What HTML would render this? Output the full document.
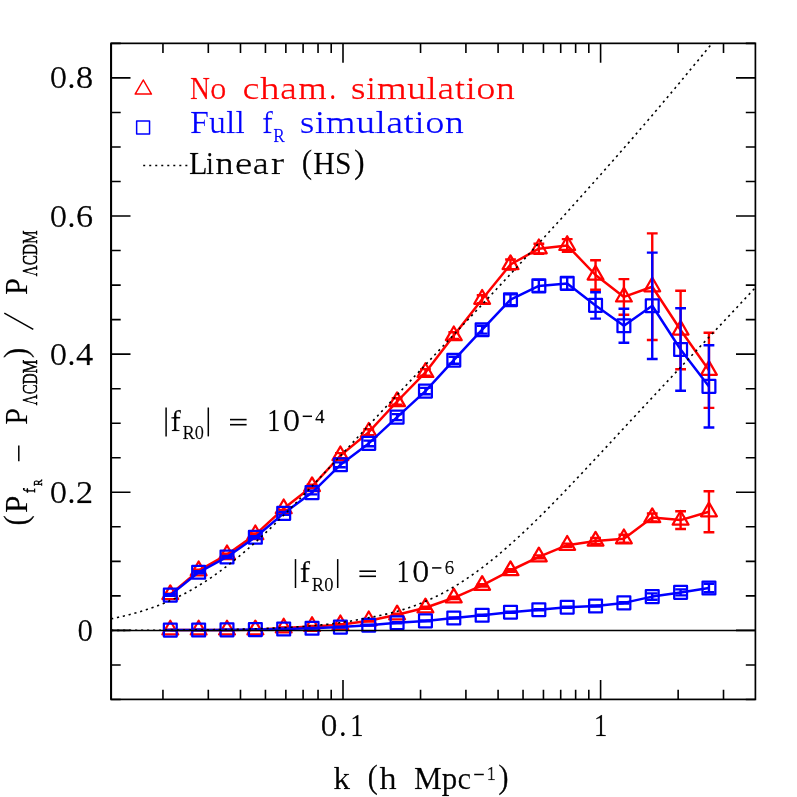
<!DOCTYPE html>
<html><head><meta charset="utf-8"><title>chart</title>
<style>html,body{margin:0;padding:0;background:#fff;}svg{display:block;}text{font-family:"Liberation Serif",serif;}</style></head>
<body>
<svg width="797" height="797" viewBox="0 0 797 797">
<rect x="0" y="0" width="797" height="797" fill="#ffffff"/>
<defs><clipPath id="cp"><rect x="111.1" y="43.35" width="644.3" height="656.05"/></clipPath></defs>
<g clip-path="url(#cp)">
<path d="M170.30,594.50 L198.65,570.70 L227.00,554.60 L255.35,534.60 L283.70,508.60 L312.05,486.50 L340.40,455.60 L368.75,432.20 L397.10,401.50 L425.45,372.40 L453.80,335.60 L482.15,299.20 L510.50,264.50 L538.85,248.70 L567.20,245.40 L595.55,275.00 L623.90,296.90 L652.25,286.70 L680.60,330.00 L708.95,370.30" fill="none" stroke="#ff0000" stroke-width="2.5" stroke-linejoin="round"/>
<path d="M170.30,593.70V595.30M164.90,593.70H175.70M164.90,595.30H175.70M198.65,569.70V571.70M193.25,569.70H204.05M193.25,571.70H204.05M227.00,553.60V555.60M221.60,553.60H232.40M221.60,555.60H232.40M255.35,533.40V535.80M249.95,533.40H260.75M249.95,535.80H260.75M283.70,507.10V510.10M278.30,507.10H289.10M278.30,510.10H289.10M312.05,484.70V488.30M306.65,484.70H317.45M306.65,488.30H317.45M340.40,453.10V458.10M335.00,453.10H345.80M335.00,458.10H345.80M368.75,429.20V435.20M363.35,429.20H374.15M363.35,435.20H374.15M397.10,398.20V404.80M391.70,398.20H402.50M391.70,404.80H402.50M425.45,369.10V375.70M420.05,369.10H430.85M420.05,375.70H430.85M453.80,332.30V338.90M448.40,332.30H459.20M448.40,338.90H459.20M482.15,295.20V303.20M476.75,295.20H487.55M476.75,303.20H487.55M510.50,259.50V269.50M505.10,259.50H515.90M505.10,269.50H515.90M538.85,243.70V253.70M533.45,243.70H544.25M533.45,253.70H544.25M567.20,239.10V251.70M561.80,239.10H572.60M561.80,251.70H572.60M595.55,260.30V289.70M590.15,260.30H600.95M590.15,289.70H600.95M623.90,279.10V314.70M618.50,279.10H629.30M618.50,314.70H629.30M652.25,233.40V340.00M646.85,233.40H657.65M646.85,340.00H657.65M680.60,290.80V369.20M675.20,290.80H686.00M675.20,369.20H686.00M708.95,332.70V407.90M703.55,332.70H714.35M703.55,407.90H714.35" fill="none" stroke="#ff0000" stroke-width="2.4"/>
<polygon points="170.30,585.35 178.22,599.08 162.38,599.08" fill="none" stroke="#ff0000" stroke-width="2.25" stroke-linejoin="round"/>
<polygon points="198.65,561.55 206.57,575.28 190.73,575.28" fill="none" stroke="#ff0000" stroke-width="2.25" stroke-linejoin="round"/>
<polygon points="227.00,545.45 234.92,559.18 219.08,559.18" fill="none" stroke="#ff0000" stroke-width="2.25" stroke-linejoin="round"/>
<polygon points="255.35,525.45 263.27,539.18 247.43,539.18" fill="none" stroke="#ff0000" stroke-width="2.25" stroke-linejoin="round"/>
<polygon points="283.70,499.45 291.62,513.18 275.78,513.18" fill="none" stroke="#ff0000" stroke-width="2.25" stroke-linejoin="round"/>
<polygon points="312.05,477.35 319.97,491.07 304.13,491.07" fill="none" stroke="#ff0000" stroke-width="2.25" stroke-linejoin="round"/>
<polygon points="340.40,446.45 348.32,460.18 332.48,460.18" fill="none" stroke="#ff0000" stroke-width="2.25" stroke-linejoin="round"/>
<polygon points="368.75,423.05 376.67,436.77 360.83,436.77" fill="none" stroke="#ff0000" stroke-width="2.25" stroke-linejoin="round"/>
<polygon points="397.10,392.35 405.02,406.07 389.18,406.07" fill="none" stroke="#ff0000" stroke-width="2.25" stroke-linejoin="round"/>
<polygon points="425.45,363.25 433.37,376.97 417.53,376.97" fill="none" stroke="#ff0000" stroke-width="2.25" stroke-linejoin="round"/>
<polygon points="453.80,326.45 461.72,340.18 445.88,340.18" fill="none" stroke="#ff0000" stroke-width="2.25" stroke-linejoin="round"/>
<polygon points="482.15,290.05 490.07,303.77 474.23,303.77" fill="none" stroke="#ff0000" stroke-width="2.25" stroke-linejoin="round"/>
<polygon points="510.50,255.35 518.42,269.07 502.58,269.07" fill="none" stroke="#ff0000" stroke-width="2.25" stroke-linejoin="round"/>
<polygon points="538.85,239.55 546.77,253.27 530.93,253.27" fill="none" stroke="#ff0000" stroke-width="2.25" stroke-linejoin="round"/>
<polygon points="567.20,236.25 575.12,249.97 559.28,249.97" fill="none" stroke="#ff0000" stroke-width="2.25" stroke-linejoin="round"/>
<polygon points="595.55,265.85 603.47,279.57 587.63,279.57" fill="none" stroke="#ff0000" stroke-width="2.25" stroke-linejoin="round"/>
<polygon points="623.90,287.75 631.82,301.47 615.98,301.47" fill="none" stroke="#ff0000" stroke-width="2.25" stroke-linejoin="round"/>
<polygon points="652.25,277.55 660.17,291.27 644.33,291.27" fill="none" stroke="#ff0000" stroke-width="2.25" stroke-linejoin="round"/>
<polygon points="680.60,320.85 688.52,334.57 672.68,334.57" fill="none" stroke="#ff0000" stroke-width="2.25" stroke-linejoin="round"/>
<polygon points="708.95,361.15 716.87,374.88 701.03,374.88" fill="none" stroke="#ff0000" stroke-width="2.25" stroke-linejoin="round"/>
<path d="M170.30,595.10 L198.65,572.30 L227.00,557.00 L255.35,537.30 L283.70,513.40 L312.05,492.60 L340.40,464.80 L368.75,443.40 L397.10,417.10 L425.45,391.10 L453.80,360.20 L482.15,329.70 L510.50,299.70 L538.85,285.90 L567.20,283.40 L595.55,305.40 L623.90,325.80 L652.25,305.80 L680.60,349.50 L708.95,386.40" fill="none" stroke="#0000ff" stroke-width="2.5" stroke-linejoin="round"/>
<path d="M170.30,594.30V595.90M164.90,594.30H175.70M164.90,595.90H175.70M198.65,571.30V573.30M193.25,571.30H204.05M193.25,573.30H204.05M227.00,556.00V558.00M221.60,556.00H232.40M221.60,558.00H232.40M255.35,536.10V538.50M249.95,536.10H260.75M249.95,538.50H260.75M283.70,511.90V514.90M278.30,511.90H289.10M278.30,514.90H289.10M312.05,490.80V494.40M306.65,490.80H317.45M306.65,494.40H317.45M340.40,462.40V467.20M335.00,462.40H345.80M335.00,467.20H345.80M368.75,440.60V446.20M363.35,440.60H374.15M363.35,446.20H374.15M397.10,414.10V420.10M391.70,414.10H402.50M391.70,420.10H402.50M425.45,387.90V394.30M420.05,387.90H430.85M420.05,394.30H430.85M453.80,356.70V363.70M448.40,356.70H459.20M448.40,363.70H459.20M482.15,325.80V333.60M476.75,325.80H487.55M476.75,333.60H487.55M510.50,294.30V305.10M505.10,294.30H515.90M505.10,305.10H515.90M538.85,279.90V291.90M533.45,279.90H544.25M533.45,291.90H544.25M567.20,277.20V289.60M561.80,277.20H572.60M561.80,289.60H572.60M595.55,292.20V318.60M590.15,292.20H600.95M590.15,318.60H600.95M623.90,308.80V342.80M618.50,308.80H629.30M618.50,342.80H629.30M652.25,252.60V359.00M646.85,252.60H657.65M646.85,359.00H657.65M680.60,308.30V390.70M675.20,308.30H686.00M675.20,390.70H686.00M708.95,345.30V427.50M703.55,345.30H714.35M703.55,427.50H714.35" fill="none" stroke="#0000ff" stroke-width="2.4"/>
<rect x="163.88" y="588.68" width="12.84" height="12.84" fill="none" stroke="#0000ff" stroke-width="2.25" stroke-linejoin="round"/>
<rect x="192.23" y="565.88" width="12.84" height="12.84" fill="none" stroke="#0000ff" stroke-width="2.25" stroke-linejoin="round"/>
<rect x="220.58" y="550.58" width="12.84" height="12.84" fill="none" stroke="#0000ff" stroke-width="2.25" stroke-linejoin="round"/>
<rect x="248.93" y="530.88" width="12.84" height="12.84" fill="none" stroke="#0000ff" stroke-width="2.25" stroke-linejoin="round"/>
<rect x="277.28" y="506.98" width="12.84" height="12.84" fill="none" stroke="#0000ff" stroke-width="2.25" stroke-linejoin="round"/>
<rect x="305.63" y="486.18" width="12.84" height="12.84" fill="none" stroke="#0000ff" stroke-width="2.25" stroke-linejoin="round"/>
<rect x="333.98" y="458.38" width="12.84" height="12.84" fill="none" stroke="#0000ff" stroke-width="2.25" stroke-linejoin="round"/>
<rect x="362.33" y="436.98" width="12.84" height="12.84" fill="none" stroke="#0000ff" stroke-width="2.25" stroke-linejoin="round"/>
<rect x="390.68" y="410.68" width="12.84" height="12.84" fill="none" stroke="#0000ff" stroke-width="2.25" stroke-linejoin="round"/>
<rect x="419.03" y="384.68" width="12.84" height="12.84" fill="none" stroke="#0000ff" stroke-width="2.25" stroke-linejoin="round"/>
<rect x="447.38" y="353.78" width="12.84" height="12.84" fill="none" stroke="#0000ff" stroke-width="2.25" stroke-linejoin="round"/>
<rect x="475.73" y="323.28" width="12.84" height="12.84" fill="none" stroke="#0000ff" stroke-width="2.25" stroke-linejoin="round"/>
<rect x="504.08" y="293.28" width="12.84" height="12.84" fill="none" stroke="#0000ff" stroke-width="2.25" stroke-linejoin="round"/>
<rect x="532.43" y="279.48" width="12.84" height="12.84" fill="none" stroke="#0000ff" stroke-width="2.25" stroke-linejoin="round"/>
<rect x="560.78" y="276.98" width="12.84" height="12.84" fill="none" stroke="#0000ff" stroke-width="2.25" stroke-linejoin="round"/>
<rect x="589.13" y="298.98" width="12.84" height="12.84" fill="none" stroke="#0000ff" stroke-width="2.25" stroke-linejoin="round"/>
<rect x="617.48" y="319.38" width="12.84" height="12.84" fill="none" stroke="#0000ff" stroke-width="2.25" stroke-linejoin="round"/>
<rect x="645.83" y="299.38" width="12.84" height="12.84" fill="none" stroke="#0000ff" stroke-width="2.25" stroke-linejoin="round"/>
<rect x="674.18" y="343.08" width="12.84" height="12.84" fill="none" stroke="#0000ff" stroke-width="2.25" stroke-linejoin="round"/>
<rect x="702.53" y="379.98" width="12.84" height="12.84" fill="none" stroke="#0000ff" stroke-width="2.25" stroke-linejoin="round"/>
<path d="M170.30,629.90 L198.65,629.90 L227.00,629.90 L255.35,629.80 L283.70,627.90 L312.05,626.40 L340.40,624.70 L368.75,620.70 L397.10,614.80 L425.45,607.80 L453.80,597.80 L482.15,585.30 L510.50,570.50 L538.85,556.80 L567.20,545.20 L595.55,541.00 L623.90,538.70 L652.25,517.50 L680.60,520.10 L708.95,511.70" fill="none" stroke="#ff0000" stroke-width="2.5" stroke-linejoin="round"/>
<path d="M170.30,629.70V630.10M164.90,629.70H175.70M164.90,630.10H175.70M198.65,629.70V630.10M193.25,629.70H204.05M193.25,630.10H204.05M227.00,629.70V630.10M221.60,629.70H232.40M221.60,630.10H232.40M255.35,629.50V630.10M249.95,629.50H260.75M249.95,630.10H260.75M283.70,627.50V628.30M278.30,627.50H289.10M278.30,628.30H289.10M312.05,625.90V626.90M306.65,625.90H317.45M306.65,626.90H317.45M340.40,624.10V625.30M335.00,624.10H345.80M335.00,625.30H345.80M368.75,619.90V621.50M363.35,619.90H374.15M363.35,621.50H374.15M397.10,613.80V615.80M391.70,613.80H402.50M391.70,615.80H402.50M425.45,606.70V608.90M420.05,606.70H430.85M420.05,608.90H430.85M453.80,596.60V599.00M448.40,596.60H459.20M448.40,599.00H459.20M482.15,584.10V586.50M476.75,584.10H487.55M476.75,586.50H487.55M510.50,569.20V571.80M505.10,569.20H515.90M505.10,571.80H515.90M538.85,555.40V558.20M533.45,555.40H544.25M533.45,558.20H544.25M567.20,543.60V546.80M561.80,543.60H572.60M561.80,546.80H572.60M595.55,538.00V544.00M590.15,538.00H600.95M590.15,544.00H600.95M623.90,534.70V542.70M618.50,534.70H629.30M618.50,542.70H629.30M652.25,513.50V521.50M646.85,513.50H657.65M646.85,521.50H657.65M680.60,511.20V529.00M675.20,511.20H686.00M675.20,529.00H686.00M708.95,491.20V532.20M703.55,491.20H714.35M703.55,532.20H714.35" fill="none" stroke="#ff0000" stroke-width="2.4"/>
<polygon points="170.30,620.75 178.22,634.48 162.38,634.48" fill="none" stroke="#ff0000" stroke-width="2.25" stroke-linejoin="round"/>
<polygon points="198.65,620.75 206.57,634.48 190.73,634.48" fill="none" stroke="#ff0000" stroke-width="2.25" stroke-linejoin="round"/>
<polygon points="227.00,620.75 234.92,634.48 219.08,634.48" fill="none" stroke="#ff0000" stroke-width="2.25" stroke-linejoin="round"/>
<polygon points="255.35,620.65 263.27,634.38 247.43,634.38" fill="none" stroke="#ff0000" stroke-width="2.25" stroke-linejoin="round"/>
<polygon points="283.70,618.75 291.62,632.48 275.78,632.48" fill="none" stroke="#ff0000" stroke-width="2.25" stroke-linejoin="round"/>
<polygon points="312.05,617.25 319.97,630.98 304.13,630.98" fill="none" stroke="#ff0000" stroke-width="2.25" stroke-linejoin="round"/>
<polygon points="340.40,615.55 348.32,629.28 332.48,629.28" fill="none" stroke="#ff0000" stroke-width="2.25" stroke-linejoin="round"/>
<polygon points="368.75,611.55 376.67,625.28 360.83,625.28" fill="none" stroke="#ff0000" stroke-width="2.25" stroke-linejoin="round"/>
<polygon points="397.10,605.65 405.02,619.38 389.18,619.38" fill="none" stroke="#ff0000" stroke-width="2.25" stroke-linejoin="round"/>
<polygon points="425.45,598.65 433.37,612.38 417.53,612.38" fill="none" stroke="#ff0000" stroke-width="2.25" stroke-linejoin="round"/>
<polygon points="453.80,588.65 461.72,602.38 445.88,602.38" fill="none" stroke="#ff0000" stroke-width="2.25" stroke-linejoin="round"/>
<polygon points="482.15,576.15 490.07,589.88 474.23,589.88" fill="none" stroke="#ff0000" stroke-width="2.25" stroke-linejoin="round"/>
<polygon points="510.50,561.35 518.42,575.08 502.58,575.08" fill="none" stroke="#ff0000" stroke-width="2.25" stroke-linejoin="round"/>
<polygon points="538.85,547.65 546.77,561.38 530.93,561.38" fill="none" stroke="#ff0000" stroke-width="2.25" stroke-linejoin="round"/>
<polygon points="567.20,536.05 575.12,549.78 559.28,549.78" fill="none" stroke="#ff0000" stroke-width="2.25" stroke-linejoin="round"/>
<polygon points="595.55,531.85 603.47,545.58 587.63,545.58" fill="none" stroke="#ff0000" stroke-width="2.25" stroke-linejoin="round"/>
<polygon points="623.90,529.55 631.82,543.28 615.98,543.28" fill="none" stroke="#ff0000" stroke-width="2.25" stroke-linejoin="round"/>
<polygon points="652.25,508.35 660.17,522.08 644.33,522.08" fill="none" stroke="#ff0000" stroke-width="2.25" stroke-linejoin="round"/>
<polygon points="680.60,510.95 688.52,524.68 672.68,524.68" fill="none" stroke="#ff0000" stroke-width="2.25" stroke-linejoin="round"/>
<polygon points="708.95,502.55 716.87,516.27 701.03,516.27" fill="none" stroke="#ff0000" stroke-width="2.25" stroke-linejoin="round"/>
<path d="M170.30,630.10 L198.65,630.00 L227.00,629.90 L255.35,629.60 L283.70,629.00 L312.05,628.30 L340.40,627.10 L368.75,625.20 L397.10,622.70 L425.45,620.90 L453.80,618.00 L482.15,615.30 L510.50,612.20 L538.85,609.70 L567.20,607.20 L595.55,606.00 L623.90,602.90 L652.25,596.60 L680.60,592.40 L708.95,588.00" fill="none" stroke="#0000ff" stroke-width="2.5" stroke-linejoin="round"/>
<path d="M170.30,629.90V630.30M164.90,629.90H175.70M164.90,630.30H175.70M198.65,629.80V630.20M193.25,629.80H204.05M193.25,630.20H204.05M227.00,629.70V630.10M221.60,629.70H232.40M221.60,630.10H232.40M255.35,629.40V629.80M249.95,629.40H260.75M249.95,629.80H260.75M283.70,628.70V629.30M278.30,628.70H289.10M278.30,629.30H289.10M312.05,628.00V628.60M306.65,628.00H317.45M306.65,628.60H317.45M340.40,626.70V627.50M335.00,626.70H345.80M335.00,627.50H345.80M368.75,624.80V625.60M363.35,624.80H374.15M363.35,625.60H374.15M397.10,622.20V623.20M391.70,622.20H402.50M391.70,623.20H402.50M425.45,620.40V621.40M420.05,620.40H430.85M420.05,621.40H430.85M453.80,617.50V618.50M448.40,617.50H459.20M448.40,618.50H459.20M482.15,614.80V615.80M476.75,614.80H487.55M476.75,615.80H487.55M510.50,611.70V612.70M505.10,611.70H515.90M505.10,612.70H515.90M538.85,609.20V610.20M533.45,609.20H544.25M533.45,610.20H544.25M567.20,606.70V607.70M561.80,606.70H572.60M561.80,607.70H572.60M595.55,605.50V606.50M590.15,605.50H600.95M590.15,606.50H600.95M623.90,602.30V603.50M618.50,602.30H629.30M618.50,603.50H629.30M652.25,593.40V599.80M646.85,593.40H657.65M646.85,599.80H657.65M680.60,589.40V595.40M675.20,589.40H686.00M675.20,595.40H686.00M708.95,583.70V592.30M703.55,583.70H714.35M703.55,592.30H714.35" fill="none" stroke="#0000ff" stroke-width="2.4"/>
<rect x="163.88" y="623.68" width="12.84" height="12.84" fill="none" stroke="#0000ff" stroke-width="2.25" stroke-linejoin="round"/>
<rect x="192.23" y="623.58" width="12.84" height="12.84" fill="none" stroke="#0000ff" stroke-width="2.25" stroke-linejoin="round"/>
<rect x="220.58" y="623.48" width="12.84" height="12.84" fill="none" stroke="#0000ff" stroke-width="2.25" stroke-linejoin="round"/>
<rect x="248.93" y="623.18" width="12.84" height="12.84" fill="none" stroke="#0000ff" stroke-width="2.25" stroke-linejoin="round"/>
<rect x="277.28" y="622.58" width="12.84" height="12.84" fill="none" stroke="#0000ff" stroke-width="2.25" stroke-linejoin="round"/>
<rect x="305.63" y="621.88" width="12.84" height="12.84" fill="none" stroke="#0000ff" stroke-width="2.25" stroke-linejoin="round"/>
<rect x="333.98" y="620.68" width="12.84" height="12.84" fill="none" stroke="#0000ff" stroke-width="2.25" stroke-linejoin="round"/>
<rect x="362.33" y="618.78" width="12.84" height="12.84" fill="none" stroke="#0000ff" stroke-width="2.25" stroke-linejoin="round"/>
<rect x="390.68" y="616.28" width="12.84" height="12.84" fill="none" stroke="#0000ff" stroke-width="2.25" stroke-linejoin="round"/>
<rect x="419.03" y="614.48" width="12.84" height="12.84" fill="none" stroke="#0000ff" stroke-width="2.25" stroke-linejoin="round"/>
<rect x="447.38" y="611.58" width="12.84" height="12.84" fill="none" stroke="#0000ff" stroke-width="2.25" stroke-linejoin="round"/>
<rect x="475.73" y="608.88" width="12.84" height="12.84" fill="none" stroke="#0000ff" stroke-width="2.25" stroke-linejoin="round"/>
<rect x="504.08" y="605.78" width="12.84" height="12.84" fill="none" stroke="#0000ff" stroke-width="2.25" stroke-linejoin="round"/>
<rect x="532.43" y="603.28" width="12.84" height="12.84" fill="none" stroke="#0000ff" stroke-width="2.25" stroke-linejoin="round"/>
<rect x="560.78" y="600.78" width="12.84" height="12.84" fill="none" stroke="#0000ff" stroke-width="2.25" stroke-linejoin="round"/>
<rect x="589.13" y="599.58" width="12.84" height="12.84" fill="none" stroke="#0000ff" stroke-width="2.25" stroke-linejoin="round"/>
<rect x="617.48" y="596.48" width="12.84" height="12.84" fill="none" stroke="#0000ff" stroke-width="2.25" stroke-linejoin="round"/>
<rect x="645.83" y="590.18" width="12.84" height="12.84" fill="none" stroke="#0000ff" stroke-width="2.25" stroke-linejoin="round"/>
<rect x="674.18" y="585.98" width="12.84" height="12.84" fill="none" stroke="#0000ff" stroke-width="2.25" stroke-linejoin="round"/>
<rect x="702.53" y="581.58" width="12.84" height="12.84" fill="none" stroke="#0000ff" stroke-width="2.25" stroke-linejoin="round"/>
<path d="M111.10,618.90 L112.62,618.57 L114.13,618.25 L115.65,617.91 L117.16,617.57 L118.68,617.23 L120.20,616.88 L121.71,616.53 L123.23,616.16 L124.74,615.80 L126.26,615.42 L127.78,615.04 L129.29,614.65 L130.81,614.26 L132.32,613.85 L133.84,613.44 L135.36,613.02 L136.87,612.59 L138.39,612.16 L139.90,611.71 L141.42,611.26 L142.94,610.79 L144.45,610.32 L145.97,609.83 L147.48,609.34 L149.00,608.84 L150.52,608.32 L152.03,607.80 L153.55,607.26 L155.07,606.71 L156.58,606.15 L158.10,605.58 L159.61,605.00 L161.13,604.41 L162.65,603.80 L164.16,603.18 L165.68,602.55 L167.19,601.91 L168.71,601.26 L170.23,600.59 L171.74,599.91 L173.26,599.21 L174.77,598.51 L176.29,597.79 L177.81,597.06 L179.32,596.31 L180.84,595.55 L182.35,594.78 L183.87,594.00 L185.39,593.20 L186.90,592.39 L188.42,591.56 L189.93,590.72 L191.45,589.87 L192.97,589.00 L194.48,588.12 L196.00,587.23 L197.51,586.32 L199.03,585.40 L200.55,584.47 L202.06,583.52 L203.58,582.56 L205.09,581.58 L206.61,580.60 L208.13,579.60 L209.64,578.58 L211.16,577.55 L212.67,576.51 L214.19,575.46 L215.71,574.39 L217.22,573.31 L218.74,572.22 L220.25,571.12 L221.77,570.00 L223.29,568.87 L224.80,567.73 L226.32,566.57 L227.84,565.41 L229.35,564.23 L230.87,563.04 L232.38,561.83 L233.90,560.62 L235.42,559.39 L236.93,558.16 L238.45,556.91 L239.96,555.65 L241.48,554.38 L243.00,553.10 L244.51,551.80 L246.03,550.50 L247.54,549.19 L249.06,547.86 L250.58,546.53 L252.09,545.19 L253.61,543.84 L255.12,542.47 L256.64,541.10 L258.16,539.72 L259.67,538.33 L261.19,536.94 L262.70,535.53 L264.22,534.11 L265.74,532.69 L267.25,531.26 L268.77,529.82 L270.28,528.37 L271.80,526.91 L273.32,525.45 L274.83,523.98 L276.35,522.51 L277.86,521.02 L279.38,519.53 L280.90,518.04 L282.41,516.53 L283.93,515.02 L285.44,513.51 L286.96,511.99 L288.48,510.46 L289.99,508.93 L291.51,507.39 L293.02,505.85 L294.54,504.30 L296.06,502.75 L297.57,501.19 L299.09,499.63 L300.61,498.06 L302.12,496.49 L303.64,494.92 L305.15,493.34 L306.67,491.76 L308.19,490.17 L309.70,488.58 L311.22,486.99 L312.73,485.40 L314.25,483.80 L315.77,482.20 L317.28,480.60 L318.80,478.99 L320.31,477.38 L321.83,475.77 L323.35,474.16 L324.86,472.54 L326.38,470.93 L327.89,469.31 L329.41,467.69 L330.93,466.07 L332.44,464.44 L333.96,462.82 L335.47,461.19 L336.99,459.57 L338.51,457.94 L340.02,456.31 L341.54,454.68 L343.05,453.05 L344.57,451.42 L346.09,449.79 L347.60,448.16 L349.12,446.52 L350.63,444.89 L352.15,443.26 L353.67,441.62 L355.18,439.99 L356.70,438.36 L358.21,436.72 L359.73,435.09 L361.25,433.46 L362.76,431.82 L364.28,430.19 L365.79,428.56 L367.31,426.93 L368.83,425.29 L370.34,423.66 L371.86,422.03 L373.37,420.40 L374.89,418.77 L376.41,417.14 L377.92,415.51 L379.44,413.88 L380.96,412.25 L382.47,410.63 L383.99,409.00 L385.50,407.37 L387.02,405.75 L388.54,404.12 L390.05,402.50 L391.57,400.88 L393.08,399.25 L394.60,397.63 L396.12,396.01 L397.63,394.39 L399.15,392.77 L400.66,391.15 L402.18,389.53 L403.70,387.91 L405.21,386.29 L406.73,384.68 L408.24,383.06 L409.76,381.45 L411.28,379.83 L412.79,378.22 L414.31,376.60 L415.82,374.99 L417.34,373.38 L418.86,371.76 L420.37,370.15 L421.89,368.54 L423.40,366.93 L424.92,365.32 L426.44,363.71 L427.95,362.10 L429.47,360.49 L430.98,358.88 L432.50,357.27 L434.02,355.66 L435.53,354.05 L437.05,352.45 L438.56,350.84 L440.08,349.23 L441.60,347.62 L443.11,346.01 L444.63,344.40 L446.14,342.80 L447.66,341.19 L449.18,339.58 L450.69,337.97 L452.21,336.36 L453.73,334.75 L455.24,333.14 L456.76,331.53 L458.27,329.92 L459.79,328.31 L461.31,326.70 L462.82,325.09 L464.34,323.48 L465.85,321.87 L467.37,320.26 L468.89,318.64 L470.40,317.03 L471.92,315.41 L473.43,313.80 L474.95,312.18 L476.47,310.57 L477.98,308.95 L479.50,307.33 L481.01,305.71 L482.53,304.10 L484.05,302.48 L485.56,300.85 L487.08,299.23 L488.59,297.61 L490.11,295.99 L491.63,294.36 L493.14,292.74 L494.66,291.11 L496.17,289.48 L497.69,287.85 L499.21,286.22 L500.72,284.59 L502.24,282.96 L503.75,281.33 L505.27,279.70 L506.79,278.06 L508.30,276.43 L509.82,274.79 L511.33,273.15 L512.85,271.51 L514.37,269.87 L515.88,268.23 L517.40,266.59 L518.91,264.94 L520.43,263.30 L521.95,261.65 L523.46,260.01 L524.98,258.36 L526.49,256.71 L528.01,255.06 L529.53,253.41 L531.04,251.75 L532.56,250.10 L534.08,248.44 L535.59,246.79 L537.11,245.13 L538.62,243.47 L540.14,241.81 L541.66,240.15 L543.17,238.49 L544.69,236.82 L546.20,235.16 L547.72,233.49 L549.24,231.82 L550.75,230.16 L552.27,228.49 L553.78,226.81 L555.30,225.14 L556.82,223.47 L558.33,221.80 L559.85,220.12 L561.36,218.44 L562.88,216.77 L564.40,215.09 L565.91,213.41 L567.43,211.72 L568.94,210.04 L570.46,208.36 L571.98,206.67 L573.49,204.99 L575.01,203.30 L576.52,201.61 L578.04,199.92 L579.56,198.23 L581.07,196.54 L582.59,194.84 L584.10,193.15 L585.62,191.45 L587.14,189.75 L588.65,188.05 L590.17,186.35 L591.68,184.65 L593.20,182.95 L594.72,181.25 L596.23,179.54 L597.75,177.83 L599.26,176.12 L600.78,174.41 L602.30,172.70 L603.81,170.99 L605.33,169.27 L606.85,167.56 L608.36,165.84 L609.88,164.12 L611.39,162.40 L612.91,160.68 L614.43,158.95 L615.94,157.23 L617.46,155.50 L618.97,153.77 L620.49,152.04 L622.01,150.30 L623.52,148.57 L625.04,146.83 L626.55,145.09 L628.07,143.35 L629.59,141.60 L631.10,139.86 L632.62,138.11 L634.13,136.36 L635.65,134.60 L637.17,132.85 L638.68,131.09 L640.20,129.33 L641.71,127.57 L643.23,125.81 L644.75,124.04 L646.26,122.27 L647.78,120.50 L649.29,118.72 L650.81,116.94 L652.33,115.16 L653.84,113.38 L655.36,111.60 L656.87,109.81 L658.39,108.02 L659.91,106.23 L661.42,104.43 L662.94,102.63 L664.45,100.83 L665.97,99.03 L667.49,97.22 L669.00,95.41 L670.52,93.60 L672.03,91.79 L673.55,89.97 L675.07,88.15 L676.58,86.33 L678.10,84.51 L679.62,82.68 L681.13,80.85 L682.65,79.02 L684.16,77.19 L685.68,75.36 L687.20,73.52 L688.71,71.69 L690.23,69.85 L691.74,68.01 L693.26,66.17 L694.78,64.33 L696.29,62.49 L697.81,60.65 L699.32,58.81 L700.84,56.97 L702.36,55.13 L703.87,53.29 L705.39,51.45 L706.90,49.62 L708.42,47.78 L709.94,45.95 L711.45,44.13 L712.97,42.30 L714.48,40.48 L716.00,38.67" fill="none" stroke="#000000" stroke-dasharray="2.2 3.78" stroke-width="1.6"/>
<path d="M111.10,630.37 L112.39,630.37 L113.68,630.36 L114.97,630.36 L116.26,630.36 L117.56,630.35 L118.85,630.35 L120.14,630.35 L121.43,630.34 L122.72,630.34 L124.01,630.34 L125.30,630.33 L126.59,630.33 L127.89,630.32 L129.18,630.32 L130.47,630.32 L131.76,630.31 L133.05,630.31 L134.34,630.30 L135.63,630.30 L136.92,630.29 L138.21,630.29 L139.51,630.28 L140.80,630.28 L142.09,630.27 L143.38,630.27 L144.67,630.26 L145.96,630.26 L147.25,630.25 L148.54,630.25 L149.84,630.24 L151.13,630.23 L152.42,630.23 L153.71,630.22 L155.00,630.21 L156.29,630.21 L157.58,630.20 L158.87,630.19 L160.16,630.19 L161.46,630.18 L162.75,630.17 L164.04,630.16 L165.33,630.16 L166.62,630.15 L167.91,630.14 L169.20,630.13 L170.49,630.12 L171.79,630.11 L173.08,630.11 L174.37,630.10 L175.66,630.09 L176.95,630.08 L178.24,630.07 L179.53,630.06 L180.82,630.05 L182.12,630.04 L183.41,630.03 L184.70,630.01 L185.99,630.00 L187.28,629.99 L188.57,629.98 L189.86,629.97 L191.15,629.95 L192.44,629.94 L193.74,629.93 L195.03,629.92 L196.32,629.90 L197.61,629.89 L198.90,629.87 L200.19,629.86 L201.48,629.84 L202.77,629.83 L204.07,629.81 L205.36,629.80 L206.65,629.78 L207.94,629.76 L209.23,629.75 L210.52,629.73 L211.81,629.71 L213.10,629.69 L214.39,629.67 L215.69,629.65 L216.98,629.63 L218.27,629.61 L219.56,629.59 L220.85,629.57 L222.14,629.55 L223.43,629.53 L224.72,629.51 L226.02,629.48 L227.31,629.46 L228.60,629.43 L229.89,629.41 L231.18,629.38 L232.47,629.36 L233.76,629.33 L235.05,629.30 L236.34,629.28 L237.64,629.25 L238.93,629.22 L240.22,629.19 L241.51,629.16 L242.80,629.13 L244.09,629.09 L245.38,629.06 L246.67,629.03 L247.97,628.99 L249.26,628.96 L250.55,628.92 L251.84,628.89 L253.13,628.85 L254.42,628.81 L255.71,628.77 L257.00,628.73 L258.29,628.69 L259.59,628.65 L260.88,628.60 L262.17,628.56 L263.46,628.51 L264.75,628.47 L266.04,628.42 L267.33,628.37 L268.62,628.32 L269.92,628.27 L271.21,628.22 L272.50,628.16 L273.79,628.11 L275.08,628.05 L276.37,628.00 L277.66,627.94 L278.95,627.88 L280.24,627.82 L281.54,627.75 L282.83,627.69 L284.12,627.63 L285.41,627.56 L286.70,627.49 L287.99,627.42 L289.28,627.35 L290.57,627.27 L291.87,627.20 L293.16,627.12 L294.45,627.04 L295.74,626.96 L297.03,626.88 L298.32,626.79 L299.61,626.71 L300.90,626.62 L302.19,626.53 L303.49,626.44 L304.78,626.34 L306.07,626.24 L307.36,626.14 L308.65,626.04 L309.94,625.94 L311.23,625.83 L312.52,625.72 L313.82,625.61 L315.11,625.50 L316.40,625.38 L317.69,625.26 L318.98,625.14 L320.27,625.01 L321.56,624.89 L322.85,624.75 L324.15,624.62 L325.44,624.48 L326.73,624.34 L328.02,624.20 L329.31,624.05 L330.60,623.90 L331.89,623.75 L333.18,623.59 L334.47,623.43 L335.77,623.26 L337.06,623.09 L338.35,622.92 L339.64,622.74 L340.93,622.56 L342.22,622.38 L343.51,622.19 L344.80,621.99 L346.10,621.79 L347.39,621.59 L348.68,621.38 L349.97,621.17 L351.26,620.93 L352.55,620.70 L353.84,620.46 L355.13,620.23 L356.42,620.00 L357.72,619.77 L359.01,619.53 L360.30,619.30 L361.59,619.07 L362.88,618.84 L364.17,618.60 L365.46,618.37 L366.75,618.13 L368.05,617.89 L369.34,617.64 L370.63,617.40 L371.92,617.15 L373.21,616.90 L374.50,616.64 L375.79,616.38 L377.08,616.12 L378.37,615.85 L379.67,615.58 L380.96,615.30 L382.25,615.02 L383.54,614.73 L384.83,614.44 L386.12,614.14 L387.41,613.83 L388.70,613.52 L390.00,613.20 L391.29,612.88 L392.58,612.55 L393.87,612.21 L395.16,611.86 L396.45,611.51 L397.74,611.15 L399.03,610.78 L400.32,610.41 L401.62,610.03 L402.91,609.63 L404.20,609.24 L405.49,608.83 L406.78,608.41 L408.07,607.99 L409.36,607.56 L410.65,607.11 L411.95,606.66 L413.24,606.20 L414.53,605.74 L415.82,605.26 L417.11,604.77 L418.40,604.28 L419.69,603.77 L420.98,603.26 L422.27,602.73 L423.57,602.20 L424.86,601.66 L426.15,601.10 L427.44,600.54 L428.73,599.97 L430.02,599.39 L431.31,598.79 L432.60,598.19 L433.90,597.58 L435.19,596.96 L436.48,596.33 L437.77,595.69 L439.06,595.04 L440.35,594.37 L441.64,593.70 L442.93,593.02 L444.23,592.33 L445.52,591.63 L446.81,590.92 L448.10,590.20 L449.39,589.47 L450.68,588.73 L451.97,587.97 L453.26,587.21 L454.55,586.44 L455.85,585.66 L457.14,584.87 L458.43,584.07 L459.72,583.26 L461.01,582.44 L462.30,581.61 L463.59,580.77 L464.88,579.92 L466.18,579.07 L467.47,578.20 L468.76,577.32 L470.05,576.43 L471.34,575.54 L472.63,574.63 L473.92,573.72 L475.21,572.80 L476.50,571.86 L477.80,570.92 L479.09,569.97 L480.38,569.01 L481.67,568.04 L482.96,567.06 L484.25,566.08 L485.54,565.08 L486.83,564.08 L488.13,563.07 L489.42,562.05 L490.71,561.02 L492.00,559.98 L493.29,558.94 L494.58,557.89 L495.87,556.83 L497.16,555.76 L498.45,554.68 L499.75,553.60 L501.04,552.51 L502.33,551.41 L503.62,550.30 L504.91,549.19 L506.20,548.07 L507.49,546.94 L508.78,545.80 L510.08,544.66 L511.37,543.51 L512.66,542.36 L513.95,541.19 L515.24,540.02 L516.53,538.85 L517.82,537.67 L519.11,536.48 L520.40,535.29 L521.70,534.08 L522.99,532.88 L524.28,531.67 L525.57,530.45 L526.86,529.23 L528.15,528.00 L529.44,526.76 L530.73,525.52 L532.03,524.28 L533.32,523.03 L534.61,521.77 L535.90,520.51 L537.19,519.25 L538.48,517.98 L539.77,516.70 L541.06,515.42 L542.35,514.14 L543.65,512.85 L544.94,511.56 L546.23,510.27 L547.52,508.97 L548.81,507.66 L550.10,506.35 L551.39,505.04 L552.68,503.73 L553.98,502.41 L555.27,501.09 L556.56,499.76 L557.85,498.43 L559.14,497.10 L560.43,495.77 L561.72,494.43 L563.01,493.09 L564.31,491.74 L565.60,490.40 L566.89,489.05 L568.18,487.70 L569.47,486.34 L570.76,484.99 L572.05,483.63 L573.34,482.27 L574.63,480.90 L575.93,479.54 L577.22,478.17 L578.51,476.80 L579.80,475.43 L581.09,474.06 L582.38,472.69 L583.67,471.31 L584.96,469.93 L586.26,468.55 L587.55,467.17 L588.84,465.79 L590.13,464.41 L591.42,463.03 L592.71,461.64 L594.00,460.26 L595.29,458.87 L596.58,457.48 L597.88,456.10 L599.17,454.71 L600.46,453.32 L601.75,451.93 L603.04,450.54 L604.33,449.15 L605.62,447.75 L606.91,446.36 L608.21,444.97 L609.50,443.58 L610.79,442.19 L612.08,440.79 L613.37,439.40 L614.66,438.01 L615.95,436.61 L617.24,435.22 L618.53,433.82 L619.83,432.43 L621.12,431.04 L622.41,429.64 L623.70,428.25 L624.99,426.86 L626.28,425.47 L627.57,424.07 L628.86,422.68 L630.16,421.29 L631.45,419.90 L632.74,418.51 L634.03,417.12 L635.32,415.73 L636.61,414.34 L637.90,412.95 L639.19,411.56 L640.48,410.17 L641.78,408.78 L643.07,407.39 L644.36,406.01 L645.65,404.62 L646.94,403.23 L648.23,401.85 L649.52,400.46 L650.81,399.08 L652.11,397.70 L653.40,396.31 L654.69,394.93 L655.98,393.55 L657.27,392.17 L658.56,390.79 L659.85,389.40 L661.14,388.02 L662.43,386.65 L663.73,385.27 L665.02,383.89 L666.31,382.51 L667.60,381.13 L668.89,379.76 L670.18,378.38 L671.47,377.01 L672.76,375.63 L674.06,374.26 L675.35,372.88 L676.64,371.51 L677.93,370.13 L679.22,368.76 L680.51,367.39 L681.80,366.02 L683.09,364.64 L684.38,363.27 L685.68,361.90 L686.97,360.53 L688.26,359.16 L689.55,357.79 L690.84,356.42 L692.13,355.05 L693.42,353.68 L694.71,352.31 L696.01,350.94 L697.30,349.57 L698.59,348.20 L699.88,346.82 L701.17,345.45 L702.46,344.08 L703.75,342.71 L705.04,341.34 L706.34,339.97 L707.63,338.60 L708.92,337.23 L710.21,335.86 L711.50,334.49 L712.79,333.12 L714.08,331.75 L715.37,330.37 L716.66,329.00 L717.96,327.63 L719.25,326.25 L720.54,324.88 L721.83,323.51 L723.12,322.13 L724.41,320.76 L725.70,319.38 L726.99,318.00 L728.29,316.63 L729.58,315.25 L730.87,313.87 L732.16,312.49 L733.45,311.11 L734.74,309.73 L736.03,308.35 L737.32,306.97 L738.61,305.59 L739.91,304.20 L741.20,302.82 L742.49,301.43 L743.78,300.05 L745.07,298.66 L746.36,297.27 L747.65,295.89 L748.94,294.50 L750.24,293.11 L751.53,291.72 L752.82,290.33 L754.11,288.93 L755.40,287.54" fill="none" stroke="#000000" stroke-dasharray="2.2 3.78" stroke-width="1.6"/>
<line x1="111.1" y1="630.6" x2="755.4" y2="630.6" stroke="#000000" stroke-width="1.5"/>
</g>
<rect x="111.1" y="43.35" width="644.3" height="656.05" fill="none" stroke="#000000" stroke-width="1.7"/>
<line x1="111.1" y1="43.35" x2="111.1" y2="699.4" stroke="#000000" stroke-width="2"/>
<path d="M111.1,699.46h9.6M755.4,699.46h-9.6M111.1,664.93h9.6M755.4,664.93h-9.6M111.1,630.40h19.4M755.4,630.40h-19.4M111.1,595.87h9.6M755.4,595.87h-9.6M111.1,561.34h9.6M755.4,561.34h-9.6M111.1,526.81h9.6M755.4,526.81h-9.6M111.1,492.28h19.4M755.4,492.28h-19.4M111.1,457.75h9.6M755.4,457.75h-9.6M111.1,423.22h9.6M755.4,423.22h-9.6M111.1,388.69h9.6M755.4,388.69h-9.6M111.1,354.16h19.4M755.4,354.16h-19.4M111.1,319.63h9.6M755.4,319.63h-9.6M111.1,285.10h9.6M755.4,285.10h-9.6M111.1,250.57h9.6M755.4,250.57h-9.6M111.1,216.04h19.4M755.4,216.04h-19.4M111.1,181.51h9.6M755.4,181.51h-9.6M111.1,146.98h9.6M755.4,146.98h-9.6M111.1,112.45h9.6M755.4,112.45h-9.6M111.1,77.92h19.4M755.4,77.92h-19.4M111.1,43.39h9.6M755.4,43.39h-9.6M162.95,699.4v-9.6M162.95,43.35v9.6M208.31,699.4v-9.6M208.31,43.35v9.6M240.49,699.4v-9.6M240.49,43.35v9.6M265.45,699.4v-9.6M265.45,43.35v9.6M285.85,699.4v-9.6M285.85,43.35v9.6M303.10,699.4v-9.6M303.10,43.35v9.6M318.04,699.4v-9.6M318.04,43.35v9.6M331.21,699.4v-9.6M331.21,43.35v9.6M343.00,699.4v-19.4M343.00,43.35v19.4M420.55,699.4v-9.6M420.55,43.35v9.6M465.91,699.4v-9.6M465.91,43.35v9.6M498.09,699.4v-9.6M498.09,43.35v9.6M523.05,699.4v-9.6M523.05,43.35v9.6M543.45,699.4v-9.6M543.45,43.35v9.6M560.70,699.4v-9.6M560.70,43.35v9.6M575.64,699.4v-9.6M575.64,43.35v9.6M588.81,699.4v-9.6M588.81,43.35v9.6M600.60,699.4v-19.4M600.60,43.35v19.4M678.15,699.4v-9.6M678.15,43.35v9.6M723.51,699.4v-9.6M723.51,43.35v9.6" fill="none" stroke="#000000" stroke-width="1.6"/>
<polygon points="143.30,80.00 151.44,94.10 135.16,94.10" fill="none" stroke="#ff0000" stroke-width="1.5" stroke-linejoin="round"/>
<rect x="136.65" y="121.00" width="12.90" height="12.90" fill="none" stroke="#0000ff" stroke-width="1.5" stroke-linejoin="round"/>
<line x1="143.2" y1="165.4" x2="188" y2="165.4" stroke="#000000" stroke-dasharray="2 4.02" stroke-width="1.5"/>
<mask id="m1" maskUnits="userSpaceOnUse" x="186.0" y="68.4" width="28.0" height="42.7"><text transform="translate(190.00,98.90)" x="0.18" y="0" font-size="30.5" fill="#fff" stroke="#fff" stroke-width="0.45" textLength="20.0" lengthAdjust="spacingAndGlyphs">N</text></mask><g mask="url(#m1)"><text transform="translate(190.00,98.90)" x="-0.18" y="0" font-size="30.5" fill="#ff0000" stroke="#ff0000" stroke-width="0.45" textLength="20.0" lengthAdjust="spacingAndGlyphs">N</text></g>
<mask id="m2" maskUnits="userSpaceOnUse" x="206.0" y="68.4" width="24.6" height="42.7"><text transform="translate(210.00,98.90)" x="0.42" y="0" font-size="30.5" fill="#fff" stroke="#fff" stroke-width="0.45" textLength="16.6" lengthAdjust="spacingAndGlyphs">o</text></mask><g mask="url(#m2)"><text transform="translate(210.00,98.90)" x="-0.42" y="0" font-size="30.5" fill="#ff0000" stroke="#ff0000" stroke-width="0.45" textLength="16.6" lengthAdjust="spacingAndGlyphs">o</text></g>
<mask id="m3" maskUnits="userSpaceOnUse" x="238.3" y="68.4" width="63.0" height="42.7"><text transform="translate(242.30,98.90)" x="0.69" y="0" font-size="30.5" fill="#fff" stroke="#fff" stroke-width="0.45" textLength="55.0" lengthAdjust="spacingAndGlyphs">cha</text></mask><g mask="url(#m3)"><text transform="translate(242.30,98.90)" x="-0.69" y="0" font-size="30.5" fill="#ff0000" stroke="#ff0000" stroke-width="0.45" textLength="55.0" lengthAdjust="spacingAndGlyphs">cha</text></g>
<mask id="m4" maskUnits="userSpaceOnUse" x="294.2" y="68.4" width="36.8" height="42.7"><text transform="translate(298.20,98.90)" x="0.58" y="0" font-size="30.5" fill="#fff" stroke="#fff" stroke-width="0.45" textLength="28.8" lengthAdjust="spacingAndGlyphs">m</text></mask><g mask="url(#m4)"><text transform="translate(298.20,98.90)" x="-0.58" y="0" font-size="30.5" fill="#ff0000" stroke="#ff0000" stroke-width="0.45" textLength="28.8" lengthAdjust="spacingAndGlyphs">m</text></g>
<mask id="m5" maskUnits="userSpaceOnUse" x="325.2" y="68.4" width="15.0" height="42.7"><text transform="translate(329.20,98.90)" x="0.20" y="0" font-size="30.5" fill="#fff" stroke="#fff" stroke-width="0.45" textLength="7.0" lengthAdjust="spacingAndGlyphs">.</text></mask><g mask="url(#m5)"><text transform="translate(329.20,98.90)" x="-0.20" y="0" font-size="30.5" fill="#ff0000" stroke="#ff0000" stroke-width="0.45" textLength="7.0" lengthAdjust="spacingAndGlyphs">.</text></g>
<mask id="m6" maskUnits="userSpaceOnUse" x="346.6" y="68.4" width="172.6" height="42.7"><text transform="translate(350.60,98.90)" x="0.66" y="0" font-size="30.5" fill="#fff" stroke="#fff" stroke-width="0.45" textLength="164.6" lengthAdjust="spacingAndGlyphs">simulation</text></mask><g mask="url(#m6)"><text transform="translate(350.60,98.90)" x="-0.66" y="0" font-size="30.5" fill="#ff0000" stroke="#ff0000" stroke-width="0.45" textLength="164.6" lengthAdjust="spacingAndGlyphs">simulation</text></g>
<mask id="m7" maskUnits="userSpaceOnUse" x="186.0" y="102.5" width="63.0" height="42.7"><text transform="translate(190.00,133.00)" x="0.46" y="0" font-size="30.5" fill="#fff" stroke="#fff" stroke-width="0.45" textLength="55.0" lengthAdjust="spacingAndGlyphs">Full</text></mask><g mask="url(#m7)"><text transform="translate(190.00,133.00)" x="-0.46" y="0" font-size="30.5" fill="#0000ff" stroke="#0000ff" stroke-width="0.45" textLength="55.0" lengthAdjust="spacingAndGlyphs">Full</text></g>
<mask id="m8" maskUnits="userSpaceOnUse" x="258.0" y="102.5" width="19.0" height="42.7"><text transform="translate(262.00,133.00)" x="0.41" y="0" font-size="30.5" fill="#fff" stroke="#fff" stroke-width="0.45" textLength="11.0" lengthAdjust="spacingAndGlyphs">f</text></mask><g mask="url(#m8)"><text transform="translate(262.00,133.00)" x="-0.41" y="0" font-size="30.5" fill="#0000ff" stroke="#0000ff" stroke-width="0.45" textLength="11.0" lengthAdjust="spacingAndGlyphs">f</text></g>
<mask id="m9" maskUnits="userSpaceOnUse" x="269.3" y="123.1" width="19.6" height="25.9"><text transform="translate(273.30,141.60)" x="0.20" y="0" font-size="18.5" fill="#fff" stroke="#fff" stroke-width="0.4" textLength="11.6" lengthAdjust="spacingAndGlyphs">R</text></mask><g mask="url(#m9)"><text transform="translate(273.30,141.60)" x="-0.20" y="0" font-size="18.5" fill="#0000ff" stroke="#0000ff" stroke-width="0.4" textLength="11.6" lengthAdjust="spacingAndGlyphs">R</text></g>
<mask id="m10" maskUnits="userSpaceOnUse" x="295.5" y="102.5" width="172.6" height="42.7"><text transform="translate(299.50,133.00)" x="0.66" y="0" font-size="30.5" fill="#fff" stroke="#fff" stroke-width="0.45" textLength="164.6" lengthAdjust="spacingAndGlyphs">simulation</text></mask><g mask="url(#m10)"><text transform="translate(299.50,133.00)" x="-0.66" y="0" font-size="30.5" fill="#0000ff" stroke="#0000ff" stroke-width="0.45" textLength="164.6" lengthAdjust="spacingAndGlyphs">simulation</text></g>
<mask id="m11" maskUnits="userSpaceOnUse" x="185.0" y="143.6" width="26.5" height="42.7"><text transform="translate(189.01,174.10)" x="0.29" y="0" font-size="30.5" fill="#fff" stroke="#fff" stroke-width="0.45" textLength="18.5" lengthAdjust="spacingAndGlyphs">L</text></mask><g mask="url(#m11)"><text transform="translate(189.01,174.10)" x="-0.29" y="0" font-size="30.5" fill="#000000" stroke="#000000" stroke-width="0.45" textLength="18.5" lengthAdjust="spacingAndGlyphs">L</text></g>
<mask id="m12" maskUnits="userSpaceOnUse" x="201.9" y="143.6" width="16.0" height="42.7"><text transform="translate(205.93,174.10)" x="0.23" y="0" font-size="30.5" fill="#fff" stroke="#fff" stroke-width="0.45" textLength="8.0" lengthAdjust="spacingAndGlyphs">i</text></mask><g mask="url(#m12)"><text transform="translate(205.93,174.10)" x="-0.23" y="0" font-size="30.5" fill="#000000" stroke="#000000" stroke-width="0.45" textLength="8.0" lengthAdjust="spacingAndGlyphs">i</text></g>
<mask id="m13" maskUnits="userSpaceOnUse" x="211.2" y="143.6" width="26.6" height="42.7"><text transform="translate(215.25,174.10)" x="0.59" y="0" font-size="30.5" fill="#fff" stroke="#fff" stroke-width="0.45" textLength="18.6" lengthAdjust="spacingAndGlyphs">n</text></mask><g mask="url(#m13)"><text transform="translate(215.25,174.10)" x="-0.59" y="0" font-size="30.5" fill="#000000" stroke="#000000" stroke-width="0.45" textLength="18.6" lengthAdjust="spacingAndGlyphs">n</text></g>
<mask id="m14" maskUnits="userSpaceOnUse" x="230.5" y="143.6" width="26.2" height="42.7"><text transform="translate(234.49,174.10)" x="0.75" y="0" font-size="30.5" fill="#fff" stroke="#fff" stroke-width="0.45" textLength="18.2" lengthAdjust="spacingAndGlyphs">e</text></mask><g mask="url(#m14)"><text transform="translate(234.49,174.10)" x="-0.75" y="0" font-size="30.5" fill="#000000" stroke="#000000" stroke-width="0.45" textLength="18.2" lengthAdjust="spacingAndGlyphs">e</text></g>
<mask id="m15" maskUnits="userSpaceOnUse" x="248.7" y="143.6" width="24.4" height="42.7"><text transform="translate(252.67,174.10)" x="0.57" y="0" font-size="30.5" fill="#fff" stroke="#fff" stroke-width="0.45" textLength="16.4" lengthAdjust="spacingAndGlyphs">a</text></mask><g mask="url(#m15)"><text transform="translate(252.67,174.10)" x="-0.57" y="0" font-size="30.5" fill="#000000" stroke="#000000" stroke-width="0.45" textLength="16.4" lengthAdjust="spacingAndGlyphs">a</text></g>
<mask id="m16" maskUnits="userSpaceOnUse" x="266.5" y="143.6" width="22.3" height="42.7"><text transform="translate(270.45,174.10)" x="0.83" y="0" font-size="30.5" fill="#fff" stroke="#fff" stroke-width="0.45" textLength="14.3" lengthAdjust="spacingAndGlyphs">r</text></mask><g mask="url(#m16)"><text transform="translate(270.45,174.10)" x="-0.83" y="0" font-size="30.5" fill="#000000" stroke="#000000" stroke-width="0.45" textLength="14.3" lengthAdjust="spacingAndGlyphs">r</text></g>
<mask id="m17" maskUnits="userSpaceOnUse" x="297.6" y="140.3" width="18.8" height="46.1"><text transform="translate(301.60,173.20)" x="0.29" y="0" font-size="32.9" fill="#fff" stroke="#fff" stroke-width="0.45" textLength="10.8" lengthAdjust="spacingAndGlyphs">(</text></mask><g mask="url(#m17)"><text transform="translate(301.60,173.20)" x="-0.29" y="0" font-size="32.9" fill="#000000" stroke="#000000" stroke-width="0.45" textLength="10.8" lengthAdjust="spacingAndGlyphs">(</text></g>
<mask id="m18" maskUnits="userSpaceOnUse" x="309.2" y="143.6" width="46.4" height="42.7"><text transform="translate(313.20,174.10)" x="0.28" y="0" font-size="30.5" fill="#fff" stroke="#fff" stroke-width="0.45" textLength="38.4" lengthAdjust="spacingAndGlyphs">HS</text></mask><g mask="url(#m18)"><text transform="translate(313.20,174.10)" x="-0.28" y="0" font-size="30.5" fill="#000000" stroke="#000000" stroke-width="0.45" textLength="38.4" lengthAdjust="spacingAndGlyphs">HS</text></g>
<mask id="m19" maskUnits="userSpaceOnUse" x="350.0" y="140.3" width="18.8" height="46.1"><text transform="translate(354.00,173.20)" x="0.29" y="0" font-size="32.9" fill="#fff" stroke="#fff" stroke-width="0.45" textLength="10.8" lengthAdjust="spacingAndGlyphs">)</text></mask><g mask="url(#m19)"><text transform="translate(354.00,173.20)" x="-0.29" y="0" font-size="32.9" fill="#000000" stroke="#000000" stroke-width="0.45" textLength="10.8" lengthAdjust="spacingAndGlyphs">)</text></g>
<mask id="m20" maskUnits="userSpaceOnUse" x="45.7" y="57.9" width="51.6" height="42.7"><text transform="translate(49.70,88.42)" x="0.49" y="0" font-size="30.5" fill="#fff" stroke="#fff" stroke-width="0.45" textLength="43.6" lengthAdjust="spacingAndGlyphs">0.8</text></mask><g mask="url(#m20)"><text transform="translate(49.70,88.42)" x="-0.49" y="0" font-size="30.5" fill="#000000" stroke="#000000" stroke-width="0.45" textLength="43.6" lengthAdjust="spacingAndGlyphs">0.8</text></g>
<mask id="m21" maskUnits="userSpaceOnUse" x="45.7" y="196.0" width="51.6" height="42.7"><text transform="translate(49.70,226.54)" x="0.49" y="0" font-size="30.5" fill="#fff" stroke="#fff" stroke-width="0.45" textLength="43.6" lengthAdjust="spacingAndGlyphs">0.6</text></mask><g mask="url(#m21)"><text transform="translate(49.70,226.54)" x="-0.49" y="0" font-size="30.5" fill="#000000" stroke="#000000" stroke-width="0.45" textLength="43.6" lengthAdjust="spacingAndGlyphs">0.6</text></g>
<mask id="m22" maskUnits="userSpaceOnUse" x="45.7" y="334.2" width="51.6" height="42.7"><text transform="translate(49.70,364.66)" x="0.49" y="0" font-size="30.5" fill="#fff" stroke="#fff" stroke-width="0.45" textLength="43.6" lengthAdjust="spacingAndGlyphs">0.4</text></mask><g mask="url(#m22)"><text transform="translate(49.70,364.66)" x="-0.49" y="0" font-size="30.5" fill="#000000" stroke="#000000" stroke-width="0.45" textLength="43.6" lengthAdjust="spacingAndGlyphs">0.4</text></g>
<mask id="m23" maskUnits="userSpaceOnUse" x="45.7" y="472.3" width="51.6" height="42.7"><text transform="translate(49.70,502.78)" x="0.49" y="0" font-size="30.5" fill="#fff" stroke="#fff" stroke-width="0.45" textLength="43.6" lengthAdjust="spacingAndGlyphs">0.2</text></mask><g mask="url(#m23)"><text transform="translate(49.70,502.78)" x="-0.49" y="0" font-size="30.5" fill="#000000" stroke="#000000" stroke-width="0.45" textLength="43.6" lengthAdjust="spacingAndGlyphs">0.2</text></g>
<mask id="m24" maskUnits="userSpaceOnUse" x="73.3" y="610.1" width="23.6" height="42.7"><text transform="translate(77.30,640.60)" x="0.33" y="0" font-size="30.5" fill="#fff" stroke="#fff" stroke-width="0.45" textLength="15.6" lengthAdjust="spacingAndGlyphs">0</text></mask><g mask="url(#m24)"><text transform="translate(77.30,640.60)" x="-0.33" y="0" font-size="30.5" fill="#000000" stroke="#000000" stroke-width="0.45" textLength="15.6" lengthAdjust="spacingAndGlyphs">0</text></g>
<mask id="m25" maskUnits="userSpaceOnUse" x="316.5" y="705.6" width="25.2" height="42.7"><text transform="translate(320.50,736.10)" x="0.47" y="0" font-size="30.5" fill="#fff" stroke="#fff" stroke-width="0.45" textLength="17.2" lengthAdjust="spacingAndGlyphs">0</text></mask><g mask="url(#m25)"><text transform="translate(320.50,736.10)" x="-0.47" y="0" font-size="30.5" fill="#000000" stroke="#000000" stroke-width="0.45" textLength="17.2" lengthAdjust="spacingAndGlyphs">0</text></g>
<mask id="m26" maskUnits="userSpaceOnUse" x="335.0" y="705.6" width="15.7" height="42.7"><text transform="translate(339.00,736.10)" x="0.31" y="0" font-size="30.5" fill="#fff" stroke="#fff" stroke-width="0.45" textLength="7.7" lengthAdjust="spacingAndGlyphs">.</text></mask><g mask="url(#m26)"><text transform="translate(339.00,736.10)" x="-0.31" y="0" font-size="30.5" fill="#000000" stroke="#000000" stroke-width="0.45" textLength="7.7" lengthAdjust="spacingAndGlyphs">.</text></g>
<mask id="m27" maskUnits="userSpaceOnUse" x="346.4" y="705.6" width="21.0" height="42.7"><text transform="translate(350.40,736.10)" x="0.11" y="0" font-size="30.5" fill="#fff" stroke="#fff" stroke-width="0.45" textLength="13.0" lengthAdjust="spacingAndGlyphs">1</text></mask><g mask="url(#m27)"><text transform="translate(350.40,736.10)" x="-0.11" y="0" font-size="30.5" fill="#000000" stroke="#000000" stroke-width="0.45" textLength="13.0" lengthAdjust="spacingAndGlyphs">1</text></g>
<mask id="m28" maskUnits="userSpaceOnUse" x="590.0" y="705.6" width="21.3" height="42.7"><text transform="translate(594.00,736.10)" x="0.14" y="0" font-size="30.5" fill="#fff" stroke="#fff" stroke-width="0.45" textLength="13.3" lengthAdjust="spacingAndGlyphs">1</text></mask><g mask="url(#m28)"><text transform="translate(594.00,736.10)" x="-0.14" y="0" font-size="30.5" fill="#000000" stroke="#000000" stroke-width="0.45" textLength="13.3" lengthAdjust="spacingAndGlyphs">1</text></g>
<mask id="m29" maskUnits="userSpaceOnUse" x="329.4" y="758.1" width="24.8" height="42.7"><text transform="translate(333.40,788.60)" x="0.43" y="0" font-size="30.5" fill="#fff" stroke="#fff" stroke-width="0.45" textLength="16.8" lengthAdjust="spacingAndGlyphs">k</text></mask><g mask="url(#m29)"><text transform="translate(333.40,788.60)" x="-0.43" y="0" font-size="30.5" fill="#000000" stroke="#000000" stroke-width="0.45" textLength="16.8" lengthAdjust="spacingAndGlyphs">k</text></g>
<mask id="m30" maskUnits="userSpaceOnUse" x="363.4" y="754.8" width="18.8" height="46.1"><text transform="translate(367.40,787.70)" x="0.29" y="0" font-size="32.9" fill="#fff" stroke="#fff" stroke-width="0.45" textLength="10.8" lengthAdjust="spacingAndGlyphs">(</text></mask><g mask="url(#m30)"><text transform="translate(367.40,787.70)" x="-0.29" y="0" font-size="32.9" fill="#000000" stroke="#000000" stroke-width="0.45" textLength="10.8" lengthAdjust="spacingAndGlyphs">(</text></g>
<mask id="m31" maskUnits="userSpaceOnUse" x="375.4" y="758.1" width="25.4" height="42.7"><text transform="translate(379.40,788.60)" x="0.48" y="0" font-size="30.5" fill="#fff" stroke="#fff" stroke-width="0.45" textLength="17.4" lengthAdjust="spacingAndGlyphs">h</text></mask><g mask="url(#m31)"><text transform="translate(379.40,788.60)" x="-0.48" y="0" font-size="30.5" fill="#000000" stroke="#000000" stroke-width="0.45" textLength="17.4" lengthAdjust="spacingAndGlyphs">h</text></g>
<mask id="m32" maskUnits="userSpaceOnUse" x="410.0" y="758.1" width="65.2" height="42.7"><text transform="translate(414.00,788.60)" x="0.33" y="0" font-size="30.5" fill="#fff" stroke="#fff" stroke-width="0.45" textLength="57.2" lengthAdjust="spacingAndGlyphs">Mpc</text></mask><g mask="url(#m32)"><text transform="translate(414.00,788.60)" x="-0.33" y="0" font-size="30.5" fill="#000000" stroke="#000000" stroke-width="0.45" textLength="57.2" lengthAdjust="spacingAndGlyphs">Mpc</text></g>
<line x1="474.2" y1="774.5" x2="483.8" y2="774.5" stroke="#000000" stroke-width="1.5"/>
<mask id="m33" maskUnits="userSpaceOnUse" x="482.6" y="761.3" width="17.3" height="25.9"><text transform="translate(486.60,779.80)" x="0.35" y="0" font-size="18.5" fill="#fff" stroke="#fff" stroke-width="0.6" textLength="9.3" lengthAdjust="spacingAndGlyphs">1</text></mask><g mask="url(#m33)"><text transform="translate(486.60,779.80)" x="-0.35" y="0" font-size="18.5" fill="#000000" stroke="#000000" stroke-width="0.6" textLength="9.3" lengthAdjust="spacingAndGlyphs">1</text></g>
<mask id="m34" maskUnits="userSpaceOnUse" x="494.1" y="754.8" width="18.8" height="46.1"><text transform="translate(498.10,787.70)" x="0.29" y="0" font-size="32.9" fill="#fff" stroke="#fff" stroke-width="0.45" textLength="10.8" lengthAdjust="spacingAndGlyphs">)</text></mask><g mask="url(#m34)"><text transform="translate(498.10,787.70)" x="-0.29" y="0" font-size="32.9" fill="#000000" stroke="#000000" stroke-width="0.45" textLength="10.8" lengthAdjust="spacingAndGlyphs">)</text></g>
<line x1="166.10" y1="407.50" x2="166.10" y2="436.40" stroke="#000000" stroke-width="1.5"/>
<line x1="208.30" y1="407.50" x2="208.30" y2="436.40" stroke="#000000" stroke-width="1.5"/>
<mask id="m35" maskUnits="userSpaceOnUse" x="166.3" y="401.6" width="18.6" height="40.6"><text transform="translate(170.30,430.60)" x="0.42" y="0" font-size="29" fill="#fff" stroke="#fff" stroke-width="0.45" textLength="10.6" lengthAdjust="spacingAndGlyphs">f</text></mask><g mask="url(#m35)"><text transform="translate(170.30,430.60)" x="-0.42" y="0" font-size="29" fill="#000000" stroke="#000000" stroke-width="0.45" textLength="10.6" lengthAdjust="spacingAndGlyphs">f</text></g>
<mask id="m36" maskUnits="userSpaceOnUse" x="178.4" y="420.6" width="29.6" height="25.9"><text transform="translate(182.40,439.10)" x="0.27" y="0" font-size="18.5" fill="#fff" stroke="#fff" stroke-width="0.45" textLength="21.6" lengthAdjust="spacingAndGlyphs">R0</text></mask><g mask="url(#m36)"><text transform="translate(182.40,439.10)" x="-0.27" y="0" font-size="18.5" fill="#000000" stroke="#000000" stroke-width="0.45" textLength="21.6" lengthAdjust="spacingAndGlyphs">R0</text></g>
<line x1="230.00" y1="419.60" x2="246.60" y2="419.60" stroke="#000000" stroke-width="1.6"/>
<line x1="230.00" y1="424.70" x2="246.60" y2="424.70" stroke="#000000" stroke-width="1.6"/>
<mask id="m37" maskUnits="userSpaceOnUse" x="263.3" y="400.1" width="20.8" height="42.7"><text transform="translate(267.30,430.60)" x="0.09" y="0" font-size="30.5" fill="#fff" stroke="#fff" stroke-width="0.45" textLength="12.8" lengthAdjust="spacingAndGlyphs">1</text></mask><g mask="url(#m37)"><text transform="translate(267.30,430.60)" x="-0.09" y="0" font-size="30.5" fill="#000000" stroke="#000000" stroke-width="0.45" textLength="12.8" lengthAdjust="spacingAndGlyphs">1</text></g>
<mask id="m38" maskUnits="userSpaceOnUse" x="278.7" y="400.1" width="25.5" height="42.7"><text transform="translate(282.70,430.60)" x="0.49" y="0" font-size="30.5" fill="#fff" stroke="#fff" stroke-width="0.45" textLength="17.5" lengthAdjust="spacingAndGlyphs">0</text></mask><g mask="url(#m38)"><text transform="translate(282.70,430.60)" x="-0.49" y="0" font-size="30.5" fill="#000000" stroke="#000000" stroke-width="0.45" textLength="17.5" lengthAdjust="spacingAndGlyphs">0</text></g>
<line x1="302.70" y1="416.30" x2="312.00" y2="416.30" stroke="#000000" stroke-width="1.5"/>
<mask id="m39" maskUnits="userSpaceOnUse" x="311.2" y="404.1" width="17.6" height="26.0"><text transform="translate(315.20,422.70)" x="0.37" y="0" font-size="18.6" fill="#fff" stroke="#fff" stroke-width="0.6" textLength="9.6" lengthAdjust="spacingAndGlyphs">4</text></mask><g mask="url(#m39)"><text transform="translate(315.20,422.70)" x="-0.37" y="0" font-size="18.6" fill="#000000" stroke="#000000" stroke-width="0.6" textLength="9.6" lengthAdjust="spacingAndGlyphs">4</text></g>
<line x1="295.50" y1="559.10" x2="295.50" y2="588.00" stroke="#000000" stroke-width="1.5"/>
<line x1="337.70" y1="559.10" x2="337.70" y2="588.00" stroke="#000000" stroke-width="1.5"/>
<mask id="m40" maskUnits="userSpaceOnUse" x="295.7" y="553.2" width="18.6" height="40.6"><text transform="translate(299.70,582.20)" x="0.42" y="0" font-size="29" fill="#fff" stroke="#fff" stroke-width="0.45" textLength="10.6" lengthAdjust="spacingAndGlyphs">f</text></mask><g mask="url(#m40)"><text transform="translate(299.70,582.20)" x="-0.42" y="0" font-size="29" fill="#000000" stroke="#000000" stroke-width="0.45" textLength="10.6" lengthAdjust="spacingAndGlyphs">f</text></g>
<mask id="m41" maskUnits="userSpaceOnUse" x="307.8" y="572.2" width="29.6" height="25.9"><text transform="translate(311.80,590.70)" x="0.27" y="0" font-size="18.5" fill="#fff" stroke="#fff" stroke-width="0.45" textLength="21.6" lengthAdjust="spacingAndGlyphs">R0</text></mask><g mask="url(#m41)"><text transform="translate(311.80,590.70)" x="-0.27" y="0" font-size="18.5" fill="#000000" stroke="#000000" stroke-width="0.45" textLength="21.6" lengthAdjust="spacingAndGlyphs">R0</text></g>
<line x1="359.40" y1="571.20" x2="376.00" y2="571.20" stroke="#000000" stroke-width="1.6"/>
<line x1="359.40" y1="576.30" x2="376.00" y2="576.30" stroke="#000000" stroke-width="1.6"/>
<mask id="m42" maskUnits="userSpaceOnUse" x="392.7" y="551.7" width="20.8" height="42.7"><text transform="translate(396.70,582.20)" x="0.09" y="0" font-size="30.5" fill="#fff" stroke="#fff" stroke-width="0.45" textLength="12.8" lengthAdjust="spacingAndGlyphs">1</text></mask><g mask="url(#m42)"><text transform="translate(396.70,582.20)" x="-0.09" y="0" font-size="30.5" fill="#000000" stroke="#000000" stroke-width="0.45" textLength="12.8" lengthAdjust="spacingAndGlyphs">1</text></g>
<mask id="m43" maskUnits="userSpaceOnUse" x="408.1" y="551.7" width="25.5" height="42.7"><text transform="translate(412.10,582.20)" x="0.49" y="0" font-size="30.5" fill="#fff" stroke="#fff" stroke-width="0.45" textLength="17.5" lengthAdjust="spacingAndGlyphs">0</text></mask><g mask="url(#m43)"><text transform="translate(412.10,582.20)" x="-0.49" y="0" font-size="30.5" fill="#000000" stroke="#000000" stroke-width="0.45" textLength="17.5" lengthAdjust="spacingAndGlyphs">0</text></g>
<line x1="432.10" y1="567.90" x2="441.40" y2="567.90" stroke="#000000" stroke-width="1.5"/>
<mask id="m44" maskUnits="userSpaceOnUse" x="440.6" y="555.7" width="17.6" height="26.0"><text transform="translate(444.60,574.30)" x="0.37" y="0" font-size="18.6" fill="#fff" stroke="#fff" stroke-width="0.6" textLength="9.6" lengthAdjust="spacingAndGlyphs">6</text></mask><g mask="url(#m44)"><text transform="translate(444.60,574.30)" x="-0.37" y="0" font-size="18.6" fill="#000000" stroke="#000000" stroke-width="0.6" textLength="9.6" lengthAdjust="spacingAndGlyphs">6</text></g>
<mask id="m45" maskUnits="userSpaceOnUse" x="-6.2" y="511.2" width="46.9" height="18.6"><text transform="translate(27.30,525.80) rotate(-90)" x="0.24" y="0" font-size="33.5" fill="#fff" stroke="#fff" stroke-width="0.45" textLength="10.6" lengthAdjust="spacingAndGlyphs">(</text></mask><g mask="url(#m45)"><text transform="translate(27.30,525.80) rotate(-90)" x="-0.24" y="0" font-size="33.5" fill="#000000" stroke="#000000" stroke-width="0.45" textLength="10.6" lengthAdjust="spacingAndGlyphs">(</text></g>
<mask id="m46" maskUnits="userSpaceOnUse" x="-3.2" y="491.4" width="42.7" height="25.6"><text transform="translate(27.30,513.00) rotate(-90)" x="0.35" y="0" font-size="30.5" fill="#fff" stroke="#fff" stroke-width="0.45" textLength="17.6" lengthAdjust="spacingAndGlyphs">P</text></mask><g mask="url(#m46)"><text transform="translate(27.30,513.00) rotate(-90)" x="-0.35" y="0" font-size="30.5" fill="#000000" stroke="#000000" stroke-width="0.45" textLength="17.6" lengthAdjust="spacingAndGlyphs">P</text></g>
<mask id="m47" maskUnits="userSpaceOnUse" x="19.1" y="483.8" width="22.4" height="13.6"><text transform="translate(35.10,493.40) rotate(-90)" x="0.55" y="0" font-size="16" fill="#fff" stroke="#fff" stroke-width="0.95" textLength="5.6" lengthAdjust="spacingAndGlyphs">f</text></mask><g mask="url(#m47)"><text transform="translate(35.10,493.40) rotate(-90)" x="-0.55" y="0" font-size="16" fill="#000000" stroke="#000000" stroke-width="0.95" textLength="5.6" lengthAdjust="spacingAndGlyphs">f</text></g>
<mask id="m48" maskUnits="userSpaceOnUse" x="29.2" y="475.4" width="17.5" height="14.6"><text transform="translate(41.70,486.00) rotate(-90)" x="0.37" y="0" font-size="12.5" fill="#fff" stroke="#fff" stroke-width="0.9" textLength="6.6" lengthAdjust="spacingAndGlyphs">R</text></mask><g mask="url(#m48)"><text transform="translate(41.70,486.00) rotate(-90)" x="-0.37" y="0" font-size="12.5" fill="#000000" stroke="#000000" stroke-width="0.9" textLength="6.6" lengthAdjust="spacingAndGlyphs">R</text></g>
<line x1="18.8" y1="461.3" x2="18.8" y2="445.6" stroke="#000000" stroke-width="1.5"/>
<mask id="m49" maskUnits="userSpaceOnUse" x="-3.2" y="403.9" width="42.7" height="25.0"><text transform="translate(27.30,424.90) rotate(-90)" x="0.30" y="0" font-size="30.5" fill="#fff" stroke="#fff" stroke-width="0.45" textLength="17.0" lengthAdjust="spacingAndGlyphs">P</text></mask><g mask="url(#m49)"><text transform="translate(27.30,424.90) rotate(-90)" x="-0.30" y="0" font-size="30.5" fill="#000000" stroke="#000000" stroke-width="0.45" textLength="17.0" lengthAdjust="spacingAndGlyphs">P</text></g>
<mask id="m50" maskUnits="userSpaceOnUse" x="16.6" y="355.8" width="28.0" height="53.6"><text transform="translate(36.60,405.40) rotate(-90)" x="0.32" y="0" font-size="20" fill="#fff" stroke="#fff" stroke-width="0.95" textLength="45.6" lengthAdjust="spacingAndGlyphs">ΛCDM</text></mask><g mask="url(#m50)"><text transform="translate(36.60,405.40) rotate(-90)" x="-0.32" y="0" font-size="20" fill="#000000" stroke="#000000" stroke-width="0.95" textLength="45.6" lengthAdjust="spacingAndGlyphs">ΛCDM</text></g>
<mask id="m51" maskUnits="userSpaceOnUse" x="-6.2" y="343.6" width="46.9" height="18.6"><text transform="translate(27.30,358.20) rotate(-90)" x="0.24" y="0" font-size="33.5" fill="#fff" stroke="#fff" stroke-width="0.45" textLength="10.6" lengthAdjust="spacingAndGlyphs">)</text></mask><g mask="url(#m51)"><text transform="translate(27.30,358.20) rotate(-90)" x="-0.24" y="0" font-size="33.5" fill="#000000" stroke="#000000" stroke-width="0.45" textLength="10.6" lengthAdjust="spacingAndGlyphs">)</text></g>
<line x1="4.3" y1="313.2" x2="33.3" y2="329.4" stroke="#000000" stroke-width="1.5"/>
<mask id="m52" maskUnits="userSpaceOnUse" x="-3.2" y="274.0" width="42.7" height="25.0"><text transform="translate(27.30,295.00) rotate(-90)" x="0.30" y="0" font-size="30.5" fill="#fff" stroke="#fff" stroke-width="0.45" textLength="17.0" lengthAdjust="spacingAndGlyphs">P</text></mask><g mask="url(#m52)"><text transform="translate(27.30,295.00) rotate(-90)" x="-0.30" y="0" font-size="30.5" fill="#000000" stroke="#000000" stroke-width="0.45" textLength="17.0" lengthAdjust="spacingAndGlyphs">P</text></g>
<mask id="m53" maskUnits="userSpaceOnUse" x="16.6" y="226.2" width="28.0" height="54.2"><text transform="translate(36.60,276.40) rotate(-90)" x="0.33" y="0" font-size="20" fill="#fff" stroke="#fff" stroke-width="0.95" textLength="46.2" lengthAdjust="spacingAndGlyphs">ΛCDM</text></mask><g mask="url(#m53)"><text transform="translate(36.60,276.40) rotate(-90)" x="-0.33" y="0" font-size="20" fill="#000000" stroke="#000000" stroke-width="0.95" textLength="46.2" lengthAdjust="spacingAndGlyphs">ΛCDM</text></g>
</svg>
</body></html>
